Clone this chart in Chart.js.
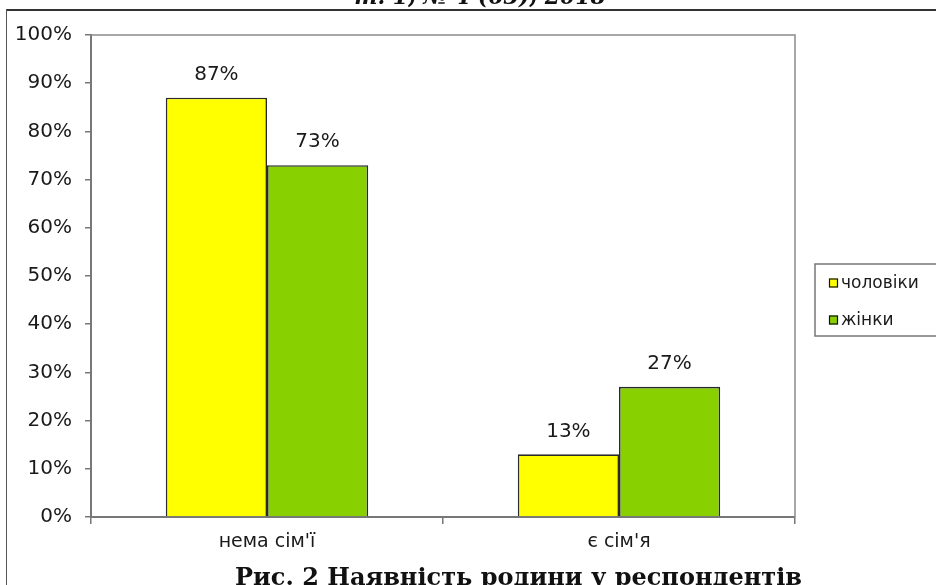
<!DOCTYPE html>
<html>
<head>
<meta charset="utf-8">
<script src="https://cdn.jsdelivr.net/npm/chart.js@4.4.1/dist/chart.umd.min.js"></script>
<style>
  html, body { margin: 0; padding: 0; width: 936px; height: 585px; overflow: hidden; background: #fff; }
  #wrap { position: relative; width: 936px; height: 585px; overflow: hidden; }
  canvas { position: absolute; left: 0; top: 0; }
  .topline { position: absolute; left: 6px; top: 9px; width: 940px; height: 2px; background: #333; }
  .leftline { position: absolute; left: 6px; top: 9px; width: 1px; height: 600px; background: #555; }
  .toptext { position: absolute; left: 12px; width: 936px; top: -17px; text-align: center;
    font: bold italic 22px "DejaVu Serif", serif; color: #111; }
  .caption { position: absolute; left: 235px; top: 562px; white-space: nowrap;
    font: bold 24px "DejaVu Serif", serif; color: #111; }
</style>
</head>
<body>
<div id="wrap">
  <canvas id="c" width="936" height="585"></canvas>
  <div class="topline"></div>
  <div class="leftline"></div>
  <div class="toptext">т. 1, № 4 (63), 2018</div>
  <div class="caption">Рис. 2 Наявність родини у респондентів</div>
</div>
<script>
const categories = ["нема сім'ї", "є сім'я"];
const seriesNames = ["чоловіки", "жінки"];
const menValues = [87, 13];
const womenValues = [73, 27];
const yTicks = [0, 10, 20, 30, 40, 50, 60, 70, 80, 90, 100];
const seriesColors = ["#FFFF00", "#88D000"];

const FONT = '"DejaVu Sans", Verdana, sans-serif';

const frameAndLabels = {
  id: 'frameAndLabels',
  afterDatasetsDraw(chart) {
    const ctx = chart.ctx;
    const a = chart.chartArea;
    ctx.save();
    ctx.strokeStyle = '#8a8a8a';
    ctx.lineWidth = 1.5;
    ctx.beginPath();
    ctx.moveTo(a.left, a.top);
    ctx.lineTo(a.right, a.top);
    ctx.lineTo(a.right, a.bottom);
    ctx.stroke();
    // data labels
    ctx.fillStyle = '#1a1a1a';
    ctx.font = '20px ' + FONT;
    ctx.textAlign = 'center';
    ctx.textBaseline = 'bottom';
    chart.data.datasets.forEach((ds, i) => {
      const meta = chart.getDatasetMeta(i);
      meta.data.forEach((bar, j) => {
        ctx.fillText(ds.data[j] + '%', bar.x, bar.y - 13);
      });
    });
    // legend
    const lx = 815, ly = 264, lw = 140, lh = 72;
    ctx.strokeStyle = '#777';
    ctx.lineWidth = 1.5;
    ctx.strokeRect(lx, ly, lw, lh);
    ctx.font = '17px ' + FONT;
    ctx.textAlign = 'left';
    ctx.textBaseline = 'middle';
    chart.data.datasets.forEach((ds, i) => {
      const cy = ly + 19 + i * 37;
      ctx.fillStyle = ds.backgroundColor;
      ctx.fillRect(829, cy - 4.5, 9, 9);
      ctx.strokeStyle = '#111';
      ctx.lineWidth = 1.2;
      ctx.strokeRect(829.5, cy - 4, 8, 8);
      ctx.fillStyle = '#1a1a1a';
      ctx.fillText(ds.label, 841, cy + 1);
    });
    ctx.restore();
  }
};

new Chart(document.getElementById('c'), {
  type: 'bar',
  data: {
    labels: categories,
    datasets: [
      { label: seriesNames[0], data: menValues, backgroundColor: seriesColors[0], borderColor: '#2a2a2a', borderWidth: 1.6 },
      { label: seriesNames[1], data: womenValues, backgroundColor: seriesColors[1], borderColor: '#2a2a2a', borderWidth: 1.6 }
    ]
  },
  options: {
    responsive: false,
    animation: false,
    events: [],
    layout: { padding: { left: 0, top: 35, right: 141, bottom: 0 } },
    datasets: { bar: { categoryPercentage: 0.575, barPercentage: 1.0 } },
    plugins: { legend: { display: false }, tooltip: { enabled: false } },
    scales: {
      x: {
        grid: { offset: true, drawOnChartArea: false, tickLength: 7, color: '#777', lineWidth: 1.5 },
        border: { color: '#777', width: 2 },
        ticks: { color: '#1a1a1a', font: { family: FONT, size: 19 }, padding: 7 },
        afterFit(scale) { scale.height = 68; }
      },
      y: {
        min: 0, max: 100,
        afterBuildTicks(scale) { scale.ticks = yTicks.map(v => ({ value: v })); },
        grid: { drawOnChartArea: false, tickLength: 6, color: '#777', lineWidth: 1.5 },
        border: { color: '#777', width: 2 },
        ticks: { color: '#1a1a1a', font: { family: FONT, size: 20 }, padding: 13, callback: v => v + '%' },
        afterFit(scale) { scale.width = 91; }
      }
    }
  },
  plugins: [frameAndLabels]
});
</script>
</body>
</html>
